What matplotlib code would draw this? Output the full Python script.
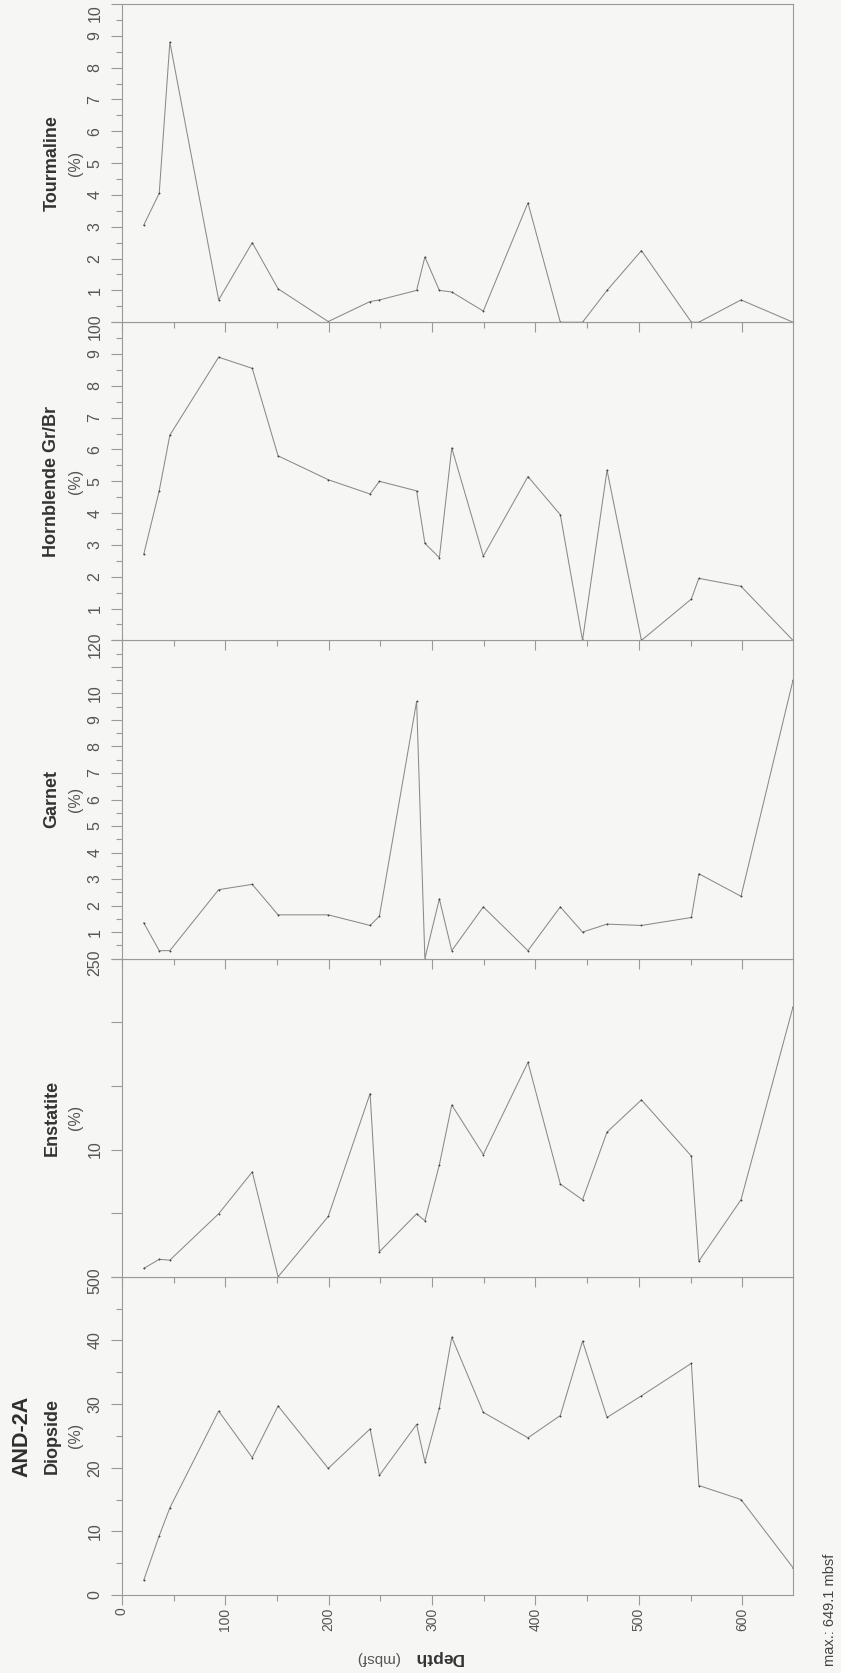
import numpy as np
import matplotlib
matplotlib.use("Agg")
import matplotlib.pyplot as plt
from matplotlib.ticker import MultipleLocator, FixedLocator
from matplotlib.transforms import ScaledTranslation

plt.rcParams['font.family'] = ['Liberation Sans', 'DejaVu Sans']

# sample depths (mbsf) shared by every mineral curve
depth = [21.0, 36.0, 46.3, 93.5, 126.0, 151.0, 199.5, 240.0, 249.0, 285.0, 293.0,
         307.0, 319.0, 349.5, 392.7, 424.0, 445.5, 469.2, 502.5, 550.8, 558.0,
         598.8, 649.1]

diopside = [2.3, 9.3, 13.7, 28.9, 21.6, 29.7, 19.9, 26.1, 18.8, 26.8, 20.9,
            29.4, 40.5, 28.7, 24.7, 28.2, 39.9, 27.9, 31.3, 36.4, 17.2, 15.0, 4.3]
enstatite = [0.66, 1.37, 1.31, 4.95, 8.24, 0.0, 4.74, 14.4, 1.97, 4.95, 4.4,
             8.8, 13.5, 9.6, 16.85, 7.29, 6.05, 11.37, 13.9, 9.48, 1.23, 6.05, 21.2]
garnet = [1.35, 0.3, 0.3, 2.6, 2.8, 1.65, 1.65, 1.25, 1.6, 9.7, 0.0,
          2.25, 0.3, 1.95, 0.3, 1.95, 1.0, 1.3, 1.25, 1.55, 3.2, 2.35, 10.5]
hornblende = [2.7, 4.7, 6.45, 8.9, 8.55, 5.8, 5.05, 4.6, 5.0, 4.7, 3.05,
              2.6, 6.05, 2.65, 5.15, 3.95, 0.0, 5.35, 0.0, 1.3, 1.95, 1.7, 0.0]
tourmaline = [3.05, 4.05, 8.8, 0.7, 2.5, 1.05, 0.02, 0.65, 0.7, 1.0, 2.05,
              1.0, 0.95, 0.35, 3.75, 0.0, 0.0, 1.0, 2.25, 0.0, 0.0, 0.7, 0.0]

names = ["Diopside", "Enstatite", "Garnet", "Hornblende Gr/Br", "Tourmaline"]
series = [diopside, enstatite, garnet, hornblende, tourmaline]
ymax = [50, 25, 12, 10, 10]
major_step = [10, 5, 1, 1, 1]
minor_step = [5, 5, 0.5, 0.5, 0.5]
# labelled ticks per panel; the top label also carries the 0 of the panel above
tick_labels = [
    {0: "0", 10: "10", 20: "20", 30: "30", 40: "40", 50: "500"},
    {10: "10", 25: "250"},
    {1: "1", 2: "2", 3: "3", 4: "4", 5: "5", 6: "6", 7: "7", 8: "8", 9: "9",
     10: "10", 12: "120"},
    {1: "1", 2: "2", 3: "3", 4: "4", 5: "5", 6: "6", 7: "7", 8: "8", 9: "9",
     10: "100"},
    {1: "1", 2: "2", 3: "3", 4: "4", 5: "5", 6: "6", 7: "7", 8: "8", 9: "9",
     10: "10"},
]
depth_max = 649.1

bg = "#f6f6f5"
frame = "#9a9a9a"
ink = "#555555"

W, H = 841, 1673
fig = plt.figure(figsize=(W / 100, H / 100), dpi=100, facecolor=bg)

left = 122 / W
width = (793 - 122) / W
bottom_px, top_px = 1595, 4
panel_h = (bottom_px - top_px) / 5 / H
shift_down = ScaledTranslation(0, -4 / 100, fig.dpi_scale_trans)

for i, (name, vals) in enumerate(zip(names, series)):
    y0 = (H - bottom_px) / H + i * panel_h
    ax = fig.add_axes([left, y0, width, panel_h], facecolor=bg)
    ax.plot(depth, vals, color="#8a8a8a", lw=0.75, marker="o", ms=1.0,
            mfc="#444444", mec="#444444", mew=0.3)
    ax.set_xlim(0, depth_max)
    ax.set_ylim(0, ymax[i])
    for s in ax.spines.values():
        s.set_color(frame)
        s.set_linewidth(0.8)

    ax.xaxis.set_major_locator(MultipleLocator(100))
    ax.xaxis.set_minor_locator(MultipleLocator(50))
    ax.tick_params(axis="x", which="major", direction="out", length=7,
                   width=0.8, color=frame)
    ax.tick_params(axis="x", which="minor", direction="out", length=4,
                   width=0.8, color=frame)
    if i == 0:
        ax.tick_params(axis="x", labelsize=10, labelcolor=ink, pad=2,
                       labelrotation=90)
    else:
        ax.tick_params(axis="x", labelbottom=False)

    majors = np.arange(0, ymax[i] + 1e-9, major_step[i])
    minors = np.arange(0, ymax[i] + 1e-9, minor_step[i])
    ax.yaxis.set_major_locator(FixedLocator(majors))
    ax.yaxis.set_minor_locator(FixedLocator(minors))
    ax.set_yticklabels([tick_labels[i].get(int(round(m)), "") for m in majors])
    ax.tick_params(axis="y", which="major", direction="out", length=8,
                   width=0.8, color=frame, labelsize=11.5, labelcolor=ink,
                   pad=6, labelrotation=90)
    ax.tick_params(axis="y", which="minor", direction="out", length=4,
                   width=0.8, color=frame)
    labs = ax.get_yticklabels()
    for lab in labs:
        lab.set_va("center")
    # joined labels sit a little below the shared boundary
    if i < 4:
        labs[-1].set_transform(labs[-1].get_transform() + shift_down)
    else:
        labs[-1].set_va("top")

    yc = y0 + panel_h / 2
    fig.text(52 / W, yc, name, rotation=90, ha="center", va="center",
             fontsize=13, fontweight="bold", color="#333333")
    fig.text(76 / W, yc, "(%)", rotation=90, ha="center", va="center",
             fontsize=11.5, color="#555555")
    if i == 0:
        fig.text(22 / W, yc, "AND-2A", rotation=90, ha="center", va="center",
                 fontsize=15.5, fontweight="bold", color="#2e2e2e")

fig.text(438 / W, 1 - 1658 / H, "Depth", rotation=180, ha="center",
         va="center", fontsize=12.5, fontweight="bold", color="#333333")
fig.text(377 / W, 1 - 1658 / H, "(mbsf)", rotation=180, ha="center",
         va="center", fontsize=11, color="#555555")
fig.text(830 / W, 1 - 1610 / H, "max.: 649.1 mbsf", rotation=90, ha="center",
         va="center", fontsize=10.5, color="#444444")

fig.savefig("out.png", dpi=100, facecolor=bg)
